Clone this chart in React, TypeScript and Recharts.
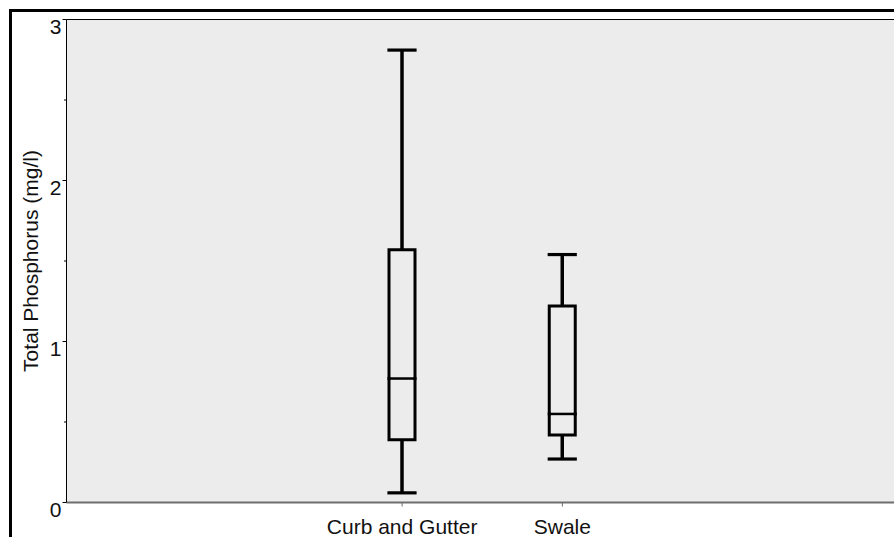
import React from 'react';
import { ComposedChart, Bar, XAxis, YAxis, CartesianGrid, ReferenceLine } from 'recharts';

// Five-number summaries of total phosphorus per drainage type
const categories = ['Curb and Gutter', 'Swale'];
const minValues = [0.06, 0.27];
const q1Values = [0.39, 0.42];
const medianValues = [0.77, 0.55];
const q3Values = [1.57, 1.22];
const maxValues = [2.81, 1.54];

// y-axis ticks: integers carry a label, halves are minor marks
const yTicks = [0, 0.5, 1, 1.5, 2, 2.5, 3];

const FONT = '"Liberation Sans", Arial, sans-serif';
const FONT_SIZE = 21;
const INK = '#111';

// stacked segments: invisible base up to the minimum, then whisker / box / box / whisker
const rows = categories.map((name, i) => ({
  name,
  base: minValues[i],
  lowerWhisker: q1Values[i] - minValues[i],
  lowerBox: medianValues[i] - q1Values[i],
  upperBox: q3Values[i] - medianValues[i],
  upperWhisker: maxValues[i] - q3Values[i],
}));

const Empty = () => <g />;

const LowerWhisker = (p: any) => {
  const { x, y, width, height } = p;
  const cx = x + width / 2;
  return (
    <g>
      <line x1={cx} x2={cx} y1={y} y2={y + height} stroke="#000" strokeWidth={3.5} />
      <line x1={x} x2={x + width} y1={y + height} y2={y + height} stroke="#000" strokeWidth={3.2} strokeLinecap="square" />
    </g>
  );
};

const UpperWhisker = (p: any) => {
  const { x, y, width, height } = p;
  const cx = x + width / 2;
  return (
    <g>
      <line x1={cx} x2={cx} y1={y} y2={y + height} stroke="#000" strokeWidth={3.5} />
      <line x1={x} x2={x + width} y1={y} y2={y} stroke="#000" strokeWidth={3.2} strokeLinecap="square" />
    </g>
  );
};

const LowerBox = (p: any) => {
  const { x, y, width, height } = p;
  return (
    <g>
      <path d={`M${x},${y} V${y + height} H${x + width} V${y}`} fill="none" stroke="#000" strokeWidth={3} strokeLinecap="square" />
      <line x1={x} x2={x + width} y1={y} y2={y} stroke="#000" strokeWidth={2.5} />
    </g>
  );
};

const UpperBox = (p: any) => {
  const { x, y, width, height } = p;
  return (
    <path d={`M${x},${y + height} V${y} H${x + width} V${y + height}`} fill="none" stroke="#000" strokeWidth={3} strokeLinecap="square" />
  );
};

const YTick = (p: any) => {
  const { x, y, payload } = p;
  const v = payload.value as number;
  const major = Number.isInteger(v);
  return (
    <g>
      <line x1={x - (major ? 4 : 2.5)} x2={x} y1={y} y2={y} stroke="#000" strokeWidth={1} />
      {major && (
        <text x={x - 5} y={y + 14.5} textAnchor="end" fontFamily={FONT} fontSize={FONT_SIZE} fill={INK}>
          {v}
        </text>
      )}
    </g>
  );
};

const XTick = (p: any) => {
  const { x, y, payload } = p;
  return (
    <g>
      <line x1={x} x2={x} y1={y} y2={y + 4} stroke="#6e6e6e" strokeWidth={1} />
      <text x={x} y={y + 31.5} textAnchor="middle" fontFamily={FONT} fontSize={FONT_SIZE} fill={INK}>
        {payload.value}
      </text>
    </g>
  );
};

export default function App() {
  return (
    <div style={{ position: 'fixed', left: 0, top: 0, width: 894, height: 537, overflow: 'hidden', background: '#fff' }}>
      <div style={{ position: 'absolute', left: 8, top: 8, width: 886, height: 529 }}>
        <ComposedChart
          width={886}
          height={529}
          data={rows}
          barSize={26}
          margin={{ top: 11.5, right: 0, bottom: 0, left: 0.5 }}
        >
          <CartesianGrid horizontal={false} vertical={false} fill="#ececec" stroke="none" />
          <XAxis
            dataKey="name"
            type="category"
            interval={0}
            height={34.5}
            padding={{ left: 255.5, right: 251.5 }}
            tickSize={0}
            tickMargin={0}
            tickLine={false}
            axisLine={{ stroke: '#6e6e6e', strokeWidth: 2 }}
            tick={<XTick />}
          />
          <YAxis
            type="number"
            domain={[0, 3]}
            ticks={yTicks}
            interval={0}
            width={58}
            tickSize={0}
            tickMargin={0}
            tickLine={false}
            axisLine={{ stroke: '#000', strokeWidth: 1 }}
            tick={<YTick />}
            label={{
              value: 'Total Phosphorus (mg/l)',
              angle: -90,
              position: 'center',
              dx: -7,
              dy: 0,
              style: { fontFamily: FONT, fontSize: FONT_SIZE, fill: INK },
            }}
          />
          <ReferenceLine y={3} stroke="#000" strokeWidth={1} />
          <Bar dataKey="base" stackId="box" shape={<Empty />} isAnimationActive={false} />
          <Bar dataKey="lowerWhisker" stackId="box" shape={<LowerWhisker />} isAnimationActive={false} />
          <Bar dataKey="lowerBox" stackId="box" shape={<LowerBox />} isAnimationActive={false} />
          <Bar dataKey="upperBox" stackId="box" shape={<UpperBox />} isAnimationActive={false} />
          <Bar dataKey="upperWhisker" stackId="box" shape={<UpperWhisker />} isAnimationActive={false} />
        </ComposedChart>
        <div
          style={{
            position: 'absolute',
            left: 1,
            top: 1,
            width: 885,
            height: 528,
            borderTop: '3px solid #000',
            borderLeft: '3px solid #000',
            boxSizing: 'border-box',
            pointerEvents: 'none',
          }}
        />
      </div>
    </div>
  );
}
